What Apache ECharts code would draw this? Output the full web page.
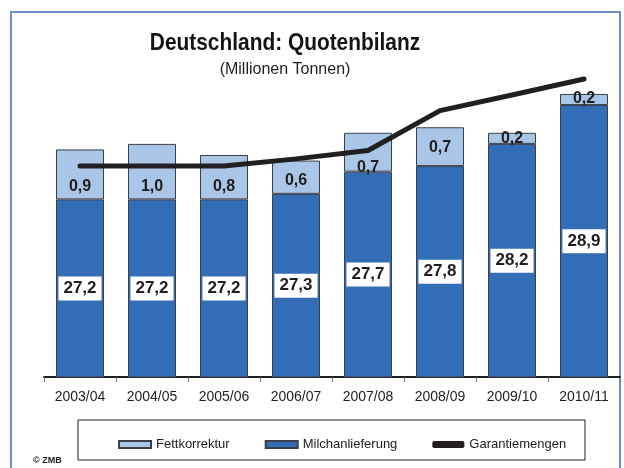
<!DOCTYPE html>
<html>
<head>
<meta charset="utf-8">
<script src="https://cdn.jsdelivr.net/npm/echarts@6/dist/echarts.min.js"></script>
<style>
  html, body { margin: 0; padding: 0; background: #fff; }
  #chart { width: 624px; height: 468px; }
</style>
</head>
<body>
<div id="chart"></div>
<script>
// Wirtschaftsjahre
var jahre = ['2003/04', '2004/05', '2005/06', '2006/07', '2007/08', '2008/09', '2009/10', '2010/11'];
// Mio. t
var milchanlieferung = [27.2, 27.2, 27.2, 27.3, 27.7, 27.8, 28.2, 28.9];
var fettkorrektur = [0.9, 1.0, 0.8, 0.6, 0.7, 0.7, 0.2, 0.2];
var garantiemengen = [27.8, 27.8, 27.8, 27.93, 28.08, 28.8, 29.08, 29.37];
// vertikale Verschiebung der Fettkorrektur-Beschriftung (nur Stil)
var labelShift = [0, 0, 0, 0, 9, -6, 8, 7];

var font = 'Liberation Sans, Arial, sans-serif';
var chart = echarts.init(document.getElementById('chart'));

var fettData = fettkorrektur.map(function (v, i) {
    return { value: v, label: { offset: [0, labelShift[i]] } };
});

function fmt(p) {
    return p.value.toFixed(1).replace('.', ',');
}

var option = {
    animation: false,
    textStyle: { fontFamily: font },
    grid: { left: 44, right: 4, top: 44, bottom: 91 },
    graphic: [
        { type: 'rect', shape: { x: 11, y: 12, width: 609, height: 470 },
          style: { fill: 'transparent', stroke: '#6f8fcc', lineWidth: 2 }, z: 0 },
        { type: 'text', x: 285, y: 43, scaleX: 0.87,
          style: { text: 'Deutschland: Quotenbilanz', font: 'bold 24px ' + font, fill: '#141414',
                   textAlign: 'center', textVerticalAlign: 'middle' } },
        { type: 'text', x: 285, y: 70,
          style: { text: '(Millionen Tonnen)', font: '16px ' + font, fill: '#1e1e1e',
                   textAlign: 'center', textVerticalAlign: 'middle' } },
        { type: 'rect', shape: { x: 78, y: 420, width: 507, height: 40 },
          style: { fill: 'transparent', stroke: '#1e1e1e', lineWidth: 1 } },
        { type: 'text', x: 33, y: 461,
          style: { text: '© ZMB', font: 'bold 9px ' + font, fill: '#222',
                   textVerticalAlign: 'middle' } }
    ],
    legend: {
        left: 113, top: 433,
        itemGap: 35, itemWidth: 32, itemHeight: 7,
        textStyle: { fontSize: 13, color: '#1e1e1e', fontFamily: font },
        data: [
            { name: 'Fettkorrektur', icon: 'rect' },
            { name: 'Milchanlieferung', icon: 'rect' },
            { name: 'Garantiemengen', icon: 'roundRect' }
        ]
    },
    xAxis: {
        type: 'category',
        data: jahre,
        axisLine: { lineStyle: { color: '#1e1e1e', width: 2 } },
        axisTick: { show: true, length: 5, lineStyle: { color: '#777' } },
        axisLabel: { fontSize: 14, color: '#1e1e1e', margin: 13 }
    },
    yAxis: {
        type: 'value', min: 24, max: 30, show: false,
        splitLine: { show: false }
    },
    series: [
        {
            name: 'Milchanlieferung', type: 'bar', stack: 'q', barWidth: 48,
            data: milchanlieferung,
            itemStyle: { color: '#336db5', borderColor: '#3c3f4a', borderWidth: 1 },
            label: {
                show: true, position: 'inside', formatter: fmt,
                fontSize: 17, fontWeight: 'bold', color: '#1e1e1e',
                backgroundColor: '#fff', padding: [4, 5, 3, 5]
            }
        },
        {
            name: 'Fettkorrektur', type: 'bar', stack: 'q', barWidth: 48,
            data: fettData,
            itemStyle: { color: '#a9c6e8', borderColor: '#3c3f4a', borderWidth: 1 },
            label: {
                show: true, position: 'insideBottom', distance: 5, formatter: fmt,
                fontSize: 16, fontWeight: 'bold', color: '#1e1e1e'
            }
        },
        {
            name: 'Garantiemengen', type: 'line', data: garantiemengen,
            symbol: 'none', z: 5,
            lineStyle: { color: '#231f20', width: 5, cap: 'round', join: 'round' },
            itemStyle: { color: '#231f20' }
        }
    ]
};

chart.setOption(option);
</script>
</body>
</html>
